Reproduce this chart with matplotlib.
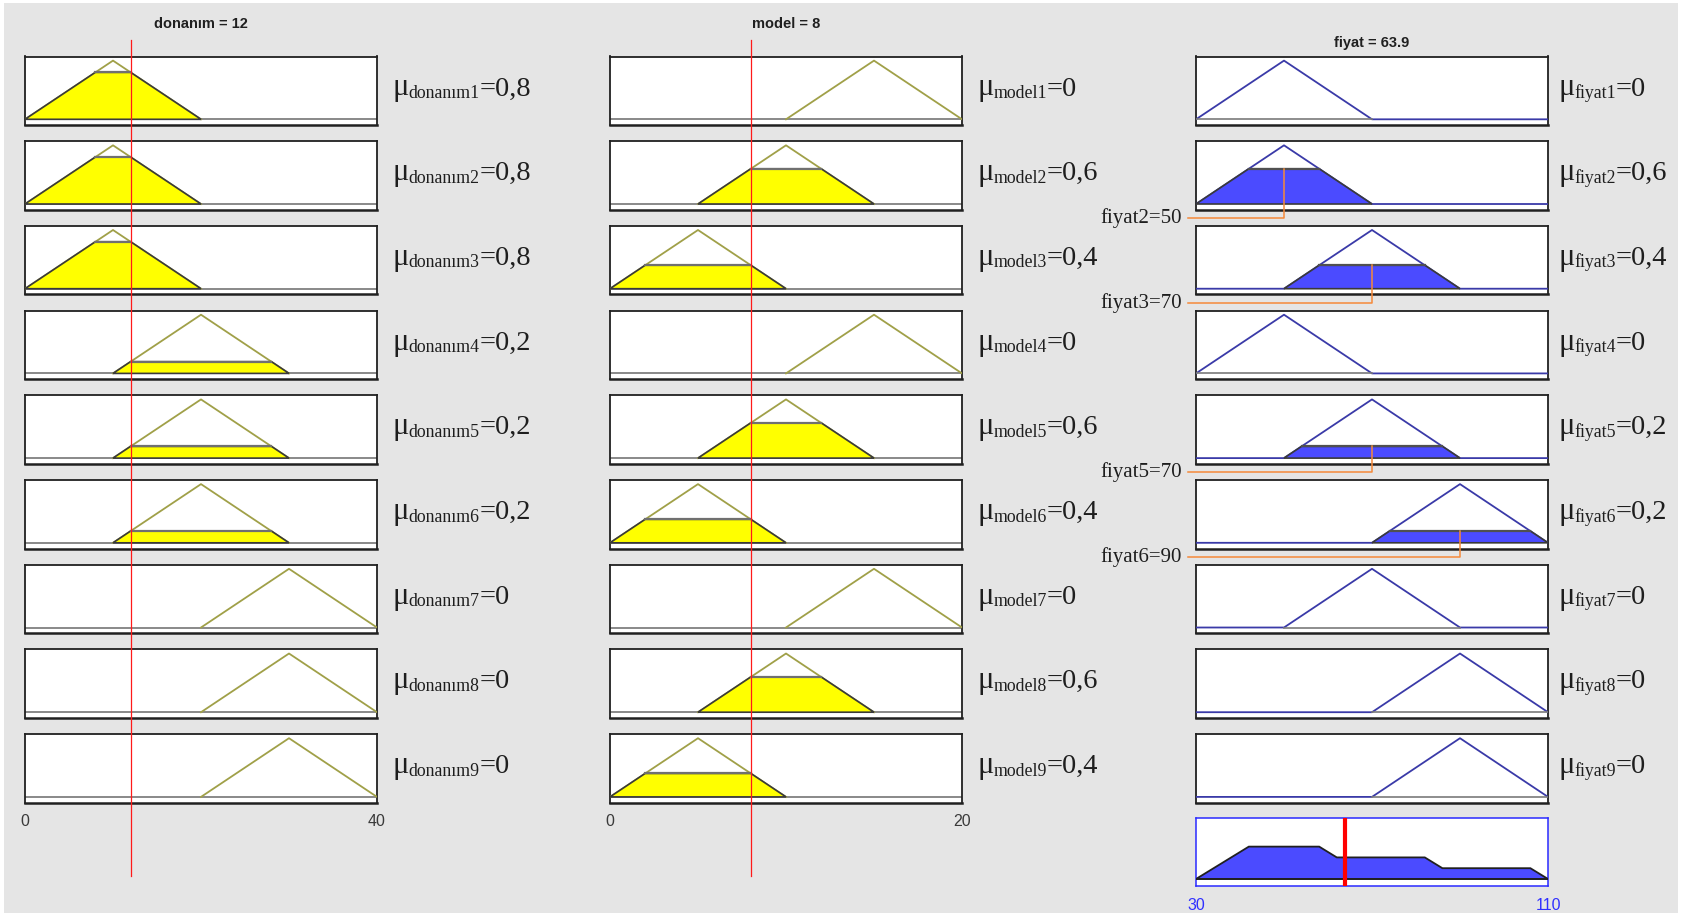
import numpy as np
import matplotlib
matplotlib.use('Agg')
import matplotlib.pyplot as plt
import matplotlib.transforms as mtransforms
from matplotlib.lines import Line2D
from matplotlib.patches import Rectangle

# ---------------- data ----------------
donanim_value = 12
model_value = 8
fiyat_value = 63.9
donanim_range = [0, 40]
model_range = [0, 20]
fiyat_range = [30, 110]

donanim_mf = [[0, 10, 20], [0, 10, 20], [0, 10, 20],
              [10, 20, 30], [10, 20, 30], [10, 20, 30],
              [20, 30, 40], [20, 30, 40], [20, 30, 40]]
model_mf = [[10, 15, 20], [5, 10, 15], [0, 5, 10],
            [10, 15, 20], [5, 10, 15], [0, 5, 10],
            [10, 15, 20], [5, 10, 15], [0, 5, 10]]
fiyat_mf = [[30, 50, 70], [30, 50, 70], [50, 70, 90],
            [30, 50, 70], [50, 70, 90], [70, 90, 110],
            [50, 70, 90], [70, 90, 110], [70, 90, 110]]

donanim_mu = [0.8, 0.8, 0.8, 0.2, 0.2, 0.2, 0, 0, 0]
model_mu = [0, 0.6, 0.4, 0, 0.6, 0.4, 0, 0.6, 0.4]
fiyat_mu = [0, 0.6, 0.4, 0, 0.2, 0.2, 0, 0, 0]

agg_x = [30, 42, 58, 62, 82, 86, 106, 110]
agg_y = [0, 0.6, 0.6, 0.4, 0.4, 0.2, 0.2, 0]

annot_rows = [2, 3, 5, 6]
annot_labels = ['fiyat2=50', 'fiyat3=70', 'fiyat5=70', 'fiyat6=90']
annot_x = [50, 70, 70, 90]

titles = ['donanım = 12', 'model = 8', 'fiyat = 63.9']
sub_names = ['donanım', 'model', 'fiyat']

# ---------------- layout ----------------
W, H = 1685, 917
DPI = 100
fig = plt.figure(figsize=(W / DPI, H / DPI), dpi=DPI, facecolor='#e5e5e5')

OLIVE = '#a0a048'
YELLOW = '#ffff00'
BLUE_LINE = '#3a3aa8'
BLUE_FILL = '#4b4bff'
EDGE = '#3a3a3a'
ORANGE = '#f5893a'
TXT = '#1e1e1e'

col_x = [25.0, 610.0, 1196.0]
col_w = 352.0
row_top0 = 56.5
row_step = 84.7
row_h = 68.5
out_top = 817.5
YLIM_IN = (-0.097, 1.07)
YLIM_OUT = (-0.13, 1.14)

SERIF = ['Liberation Serif', 'DejaVu Serif']
NARROW = ['Liberation Sans Narrow', 'Liberation Sans', 'DejaVu Sans']


def fx(x):
    return x / W


def fy(y):
    return 1 - y / H


def add_ax(x, top, w, h):
    ax = fig.add_axes([fx(x), fy(top + h), w / W, h / H])
    ax.set_xticks([])
    ax.set_yticks([])
    ax.set_facecolor('white')
    return ax


def fmt(v):
    return '0' if v == 0 else ('%.1f' % v).replace('.', ',')


# white outer border like the screenshot
for rect in [(0, 0, 1, fy(913)), (0, fy(3), 1, 1), (fx(1678), 0, 1, 1), (0, 0, fx(4), 1)]:
    fig.add_artist(Rectangle(rect[:2], rect[2], rect[3], transform=fig.transFigure,
                             facecolor='white', edgecolor='none', zorder=-5))

renderer = fig.canvas.get_renderer()

mfs = [donanim_mf, model_mf, fiyat_mf]
mus = [donanim_mu, model_mu, fiyat_mu]
ranges = [donanim_range, model_range, fiyat_range]
axes_cols = []

for c in range(3):
    lo, hi = ranges[c]
    col_axes = []
    for i in range(9):
        top = row_top0 + i * row_step
        ax = add_ax(col_x[c], top, col_w, row_h)
        ax.set_xlim(lo, hi)
        ax.set_ylim(*YLIM_IN)
        for s in ax.spines.values():
            s.set_color('#202020')
            s.set_linewidth(1.3)
        ax.spines['bottom'].set_linewidth(1.8)
        a, b, cc = mfs[c][i]
        h = mus[c][i]
        if c < 2:
            ax.plot([lo, hi], [0, 0], color='#6a6a6a', lw=1.1, zorder=2)
            ax.plot([a, b, cc], [0, 1, 0], color=OLIVE, lw=1.3, zorder=3)
            if h > 0:
                px = [a, a + h * (b - a), cc - h * (cc - b), cc]
                py = [0, h, h, 0]
                ax.fill(px, py, facecolor=YELLOW, edgecolor=EDGE, lw=1.2, zorder=4)
                ax.plot(px[1:3], py[1:3], color='#707070', lw=1.6, zorder=5)
        else:
            ax.plot([lo, a, b, cc, hi], [0, 0, 1, 0, 0], color=BLUE_LINE, lw=1.3, zorder=3)
            px = [a, a + h * (b - a), cc - h * (cc - b), cc]
            py = [0, h, h, 0]
            if h > 0:
                ax.fill(px, py, facecolor=BLUE_FILL, edgecolor=EDGE, lw=1.2, zorder=4)
                ax.plot(px[1:3], py[1:3], color='#505050', lw=1.6, zorder=5)
            else:
                ax.plot([a, cc], [0, 0], color='#7a7a7a', lw=1.2, zorder=4)
        col_axes.append(ax)

        # membership label
        xs = col_x[c] + col_w + (15 if c < 2 else 10)
        yb = top + 39.0
        t = fig.text(fx(xs), fy(yb), 'μ', fontsize=22, family=SERIF,
                     color=TXT, va='baseline', ha='left')
        x1 = t.get_window_extent(renderer).x1
        t2 = fig.text(x1 / W, fy(yb + 2.5), '%s%d' % (sub_names[c], i + 1),
                      fontsize=12.8, family=SERIF, color=TXT, va='baseline', ha='left')
        x2 = t2.get_window_extent(renderer).x1
        fig.text(x2 / W, fy(yb), '=' + fmt(h), fontsize=20.5, family=SERIF,
                 color=TXT, va='baseline', ha='left')
    axes_cols.append(col_axes)

# column titles
title_y = [24, 24, 43]
for c in range(3):
    fig.text(fx(col_x[c] + col_w / 2), fy(title_y[c]), titles[c], fontsize=10.5,
             family=NARROW, fontweight='bold', color='#202020', ha='center', va='center')

# input range tick labels
for c in range(2):
    lo, hi = ranges[c]
    fig.text(fx(col_x[c]), fy(822), str(lo), fontsize=11.5, family=NARROW,
             color='#3a3a3a', ha='center', va='center')
    fig.text(fx(col_x[c] + col_w), fy(822), str(hi), fontsize=11.5, family=NARROW,
             color='#3a3a3a', ha='center', va='center')

# red input value lines
for c, v in enumerate([donanim_value, model_value]):
    tr = mtransforms.blended_transform_factory(axes_cols[c][0].transData, fig.transFigure)
    fig.add_artist(Line2D([v, v], [fy(876), fy(40)], transform=tr,
                          color='#ff1a1a', lw=0.9, zorder=10))

# aggregated output
axo = add_ax(col_x[2], out_top, col_w, row_h)
axo.set_xlim(*fiyat_range)
axo.set_ylim(*YLIM_OUT)
for s in axo.spines.values():
    s.set_color('#2a2aff')
    s.set_linewidth(1.1)
axo.fill(agg_x, agg_y, facecolor=BLUE_FILL, edgecolor='#202020', lw=1.3, zorder=3)
axo.plot(fiyat_range, [0, 0], color='#202020', lw=1.3, zorder=4)
axo.axvline(fiyat_value, color='#ff0000', lw=3.0, zorder=5)
fig.text(fx(col_x[2]), fy(905), str(fiyat_range[0]), fontsize=11.5, family=NARROW,
         color='#3030ff', ha='center', va='center')
fig.text(fx(col_x[2] + col_w), fy(905), str(fiyat_range[1]), fontsize=11.5, family=NARROW,
         color='#3030ff', ha='center', va='center')

# orange annotation leaders
for r, lab, xv in zip(annot_rows, annot_labels, annot_x):
    i = r - 1
    top = row_top0 + i * row_step
    h = fiyat_mu[i]
    y_line = top + row_h + 8.5
    y_clip = top + (YLIM_IN[1] - h) / (YLIM_IN[1] - YLIM_IN[0]) * row_h
    xpix = col_x[2] + (xv - fiyat_range[0]) / (fiyat_range[1] - fiyat_range[0]) * col_w
    fig.add_artist(Line2D([fx(1188), fx(xpix), fx(xpix)],
                          [fy(y_line), fy(y_line), fy(y_clip)],
                          transform=fig.transFigure, color=ORANGE, lw=1.1, zorder=11))
    fig.text(fx(1182), fy(y_line + 5), lab, fontsize=15, family=SERIF,
             color=TXT, ha='right', va='baseline')

fig.savefig('out.png', dpi=DPI, facecolor=fig.get_facecolor())
